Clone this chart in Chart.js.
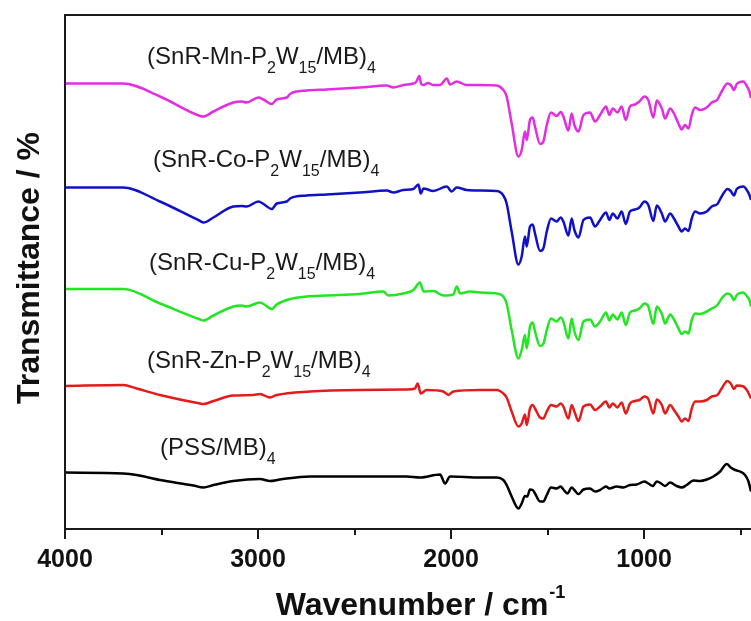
<!DOCTYPE html>
<html>
<head>
<meta charset="utf-8">
<script src="https://cdn.jsdelivr.net/npm/chart.js@4.4.1/dist/chart.umd.min.js"></script>
<style>
  html, body { margin: 0; padding: 0; background: #fff; overflow: hidden; }
  #wrap { width: 751px; height: 621px; position: relative; }
</style>
</head>
<body>
<div id="wrap"><canvas id="c" width="751" height="621"></canvas></div>
<script>
// FTIR spectra of the (…/MB)4 multilayer films, stacked with vertical offsets.
// Wavenumbers in cm^-1, transmittance in arbitrary (offset) units.

// Shared wavenumber grid for the fingerprint region of the four SnR films
const fpWave = [1850,1763,1729,1712,1686,1651,1634,1617,1608,1591,
                1577,1565,1539,1522,1504,1482,1453,1432,1418,1392,
                1375,1361,1340,1314,1280,1254,1228,1197,1180,1162,
                1138,1116,1095,1073,1047,1024,998,978,952,934,
                908,891,865,845,822,805,788,770,753,736,
                710,675,649,620,598,568,551,534,520,485,
                468,454,446];

// (SnR-Mn-P2W15/MB)4
const mnHiWave = [4000,3698,3508,3300,3283,3231,3128,3085,3059,2998,2972,2929,2903,2851,2834,2748,2644,2472,2333,2299,2247,2195,2181,2164,2155,2143,2119,2092,2057,2022,2005,1971,1919];
const mnHiT    = [89.1,89.1,86.5,82.6,82.5,83.5,85.3,85.5,85.3,86.3,85.9,85.0,85.9,86.3,87.0,87.7,87.9,88.3,88.7,88.3,88.8,89.1,89.4,90.6,89.0,88.8,89.2,88.8,88.8,90.1,88.9,89.5,88.8];
const mnFpT    = [88.8,88.7,87.8,86.5,81.1,74.5,75.8,79.5,77.8,81.8,
                  82.3,80.5,77.0,77.5,80.8,83.3,82.6,83.4,82.5,79.7,
                  83.1,80.8,79.5,82.8,83.3,81.5,82.8,84.5,82.8,84.1,
                  83.3,84.5,81.8,84.5,84.9,85.5,86.5,85.8,82.3,85.7,
                  84.1,82.1,84.1,83.1,81.1,79.9,80.8,80.1,82.8,84.3,
                  83.8,84.3,85.3,85.9,87.5,89.1,88.8,87.8,89.0,89.5,
                  88.6,87.5,86.2];

// (SnR-Co-P2W15/MB)4
const coHiWave = [4000,3698,3508,3300,3283,3231,3128,3085,3059,2998,2972,2929,2903,2851,2834,2748,2644,2472,2333,2299,2247,2195,2169,2157,2143,2092,2022,1997,1971,1919];
const coHiT    = [68.3,68.3,65.5,61.6,61.3,62.3,64.5,64.6,64.5,65.5,65.0,64.0,65.1,65.5,66.1,66.7,66.9,67.3,67.7,67.3,67.8,68.0,68.9,67.1,68.1,67.6,68.5,67.5,68.3,67.8];
const coFpT    = [67.7,67.6,66.7,65.1,59.5,52.9,54.5,58.5,56.5,60.5,
                  60.9,59.1,55.6,56.1,59.5,62.1,61.5,62.3,61.5,58.7,
                  62.1,59.8,58.3,61.8,62.3,60.5,61.8,63.3,61.8,63.1,
                  62.1,63.5,61.0,63.5,63.9,64.3,65.5,64.8,61.6,64.7,
                  63.1,61.5,63.1,62.1,60.5,59.5,60.1,59.6,62.1,63.5,
                  63.1,63.5,64.5,65.0,66.5,68.0,67.6,66.7,68.0,68.5,
                  67.8,66.8,65.8];

// (SnR-Cu-P2W15/MB)4
const cuHiWave = [4000,3698,3508,3300,3283,3231,3128,3085,3059,2990,2964,2929,2903,2834,2748,2644,2472,2351,2325,2247,2195,2161,2143,2092,2040,1988,1971,1953,1902];
const cuHiT    = [48.0,48.0,45.1,41.9,41.7,42.7,44.5,44.7,44.5,45.3,44.8,44.0,44.9,46.0,46.5,46.7,47.0,47.5,46.7,47.1,47.8,49.3,47.5,47.6,46.7,46.9,48.5,47.1,47.5];
const cuFpT    = [47.3,47.1,46.5,45.1,39.8,34.1,35.8,38.8,36.1,40.5,
                  41.3,39.5,36.6,37.0,39.8,42.1,41.5,42.3,41.5,38.1,
                  42.1,39.5,37.8,41.5,41.9,40.5,41.5,43.3,41.7,42.9,
                  41.9,43.3,40.8,43.3,43.7,44.1,45.1,44.5,41.0,44.5,
                  43.0,41.1,42.9,41.9,40.1,39.0,39.5,39.1,41.8,43.1,
                  43.0,43.5,44.1,44.8,46.1,47.1,46.8,45.8,46.8,47.3,
                  46.6,45.8,44.5];

// (SnR-Zn-P2W15/MB)4
const znHiWave = [4000,3698,3629,3508,3300,3283,3231,3128,3024,2990,2938,2903,2731,2472,2230,2187,2173,2157,2126,2040,2014,1988];
const znHiT    = [28.6,28.8,28.1,26.8,25.1,25.0,25.6,26.7,26.8,27.0,26.3,26.8,27.5,27.8,27.9,28.1,29.1,27.1,27.8,27.5,26.8,27.5];
const znFpT    = [27.8,27.8,27.1,26.3,23.5,20.5,21.1,22.9,20.8,24.1,
                  24.8,24.1,22.3,22.1,23.5,24.8,24.5,25.1,24.5,22.1,
                  24.8,23.5,21.6,24.5,24.9,23.8,24.5,25.5,24.3,25.1,
                  24.3,25.3,23.1,25.1,25.6,25.8,26.5,26.0,23.1,25.9,
                  24.8,23.1,24.8,23.8,22.5,21.5,22.1,21.6,24.1,25.5,
                  25.5,25.8,26.5,26.8,28.1,29.6,29.1,28.0,28.7,28.5,
                  27.8,26.8,26.1];

// (PSS/MB)4
const pssWave = [4000,3698,3629,3508,3335,3283,3231,3128,2990,2938,2886,2731,2472,2230,2161,2057,2031,2005,
                 1850,1763,1729,1712,1686,1651,1634,1617,1605,1591,
                 1577,1565,1539,1522,1504,1482,1453,1432,1418,1397,
                 1375,1361,1340,1314,1280,1254,1228,1197,1180,1142,
                 1107,1073,1038,998,978,955,934,908,891,865,
                 831,805,779,744,710,675,641,606,572,551,
                 528,503,477,459,446];
const pssT    = [11.3,11.1,10.8,9.8,8.7,8.3,8.8,9.6,10.0,9.6,9.9,10.5,10.5,10.5,10.3,10.9,9.1,10.5,
                 10.3,10.3,9.8,8.8,6.5,4.1,5.1,6.6,6.5,7.9,
                 7.8,7.1,5.5,5.5,6.8,8.3,8.1,8.5,7.9,7.1,
                 8.3,7.8,7.0,7.9,8.1,7.5,7.8,8.5,8.1,8.5,
                 8.3,8.8,8.9,9.5,9.1,8.6,9.5,9.0,8.6,9.3,
                 8.6,8.3,8.8,9.7,9.6,9.9,10.5,11.5,13.0,12.3,
                 11.8,11.5,10.8,9.5,7.5];

// Series names (subscripts marked with _{...})
const seriesNames = [
  '(SnR-Mn-P_{2}W_{15}/MB)_{4}',
  '(SnR-Co-P_{2}W_{15}/MB)_{4}',
  '(SnR-Cu-P_{2}W_{15}/MB)_{4}',
  '(SnR-Zn-P_{2}W_{15}/MB)_{4}',
  '(PSS/MB)_{4}'
];

// Axis ticks (cm^-1); only the thousands carry a label
const xTicks = [4000, 3500, 3000, 2500, 2000, 1500, 1000, 500];

// ---- styling ----
const seriesColors = ['#e22de2', '#1010c8', '#22e622', '#e41b1b', '#000000'];
// label anchor: [wavenumber at text start, transmittance at text baseline]
const labelAnchors = [[3575, 93.0], [3544, 72.4], [3565, 51.8], [3575, 32.2], [3508, 14.8]];

const seriesWave = [
  mnHiWave.concat(fpWave),
  coHiWave.concat(fpWave),
  cuHiWave.concat(fpWave),
  znHiWave.concat(fpWave),
  pssWave
];
const seriesT = [
  mnHiT.concat(mnFpT),
  coHiT.concat(coFpT),
  cuHiT.concat(cuFpT),
  znHiT.concat(znFpT),
  pssT
];

const datasets = seriesNames.map((name, i) => ({
  label: name.replace(/_\{([^}]*)\}/g, '$1'),
  data: seriesWave[i].map((w, k) => ({ x: w, y: seriesT[i][k] })),
  borderColor: seriesColors[i],
  backgroundColor: seriesColors[i],
  borderWidth: 2.5,
  pointRadius: 0,
  fill: false,
  cubicInterpolationMode: 'monotone'
}));

const FAMILY = '"Liberation Sans", Arial, Helvetica, sans-serif';

function drawRich(ctx, markup, x, y, size) {
  const parts = markup.split(/_\{([^}]*)\}/);
  let cx = x;
  parts.forEach((t, idx) => {
    if (!t) return;
    const sub = idx % 2 === 1;
    ctx.font = (sub ? Math.round(size * 0.66) : size) + 'px ' + FAMILY;
    ctx.fillText(t, cx, sub ? y + Math.round(size * 0.36) : y);
    cx += ctx.measureText(t).width;
  });
}

const framePlugin = {
  id: 'frame',
  afterDraw(chart) {
    const { ctx, chartArea: a, scales } = chart;
    const xs = scales.x, ys = scales.y;
    ctx.save();
    // frame: left, bottom, top
    ctx.strokeStyle = '#1a1a1a';
    ctx.lineWidth = 2;
    ctx.beginPath();
    ctx.moveTo(a.left - 1, a.top); ctx.lineTo(a.right + 2, a.top);
    ctx.moveTo(a.left, a.top - 1); ctx.lineTo(a.left, a.bottom + 1);
    ctx.moveTo(a.left - 1, a.bottom); ctx.lineTo(a.right + 2, a.bottom);
    xs.ticks.forEach(t => {
      const px = Math.round(xs.getPixelForValue(t.value));
      const len = t.value % 1000 === 0 ? 10 : 6;
      ctx.moveTo(px, a.bottom); ctx.lineTo(px, a.bottom + len);
    });
    ctx.stroke();

    // series labels
    ctx.fillStyle = '#1a1a1a';
    ctx.textBaseline = 'alphabetic';
    ctx.textAlign = 'left';
    seriesNames.forEach((name, i) => {
      const px = xs.getPixelForValue(labelAnchors[i][0]);
      const py = ys.getPixelForValue(labelAnchors[i][1]);
      drawRich(ctx, name, px, py, 24);
    });

    // x axis title with superscript
    ctx.fillStyle = '#111';
    ctx.font = 'bold 32px ' + FAMILY;
    const main = 'Wavenumber / cm';
    const w1 = ctx.measureText(main).width;
    ctx.font = 'bold 18px ' + FAMILY;
    const sup = '-1';
    const w2 = ctx.measureText(sup).width;
    const startX = 420 - (w1 + w2) / 2;
    ctx.font = 'bold 32px ' + FAMILY;
    ctx.fillText(main, startX, 615);
    ctx.font = 'bold 18px ' + FAMILY;
    ctx.fillText(sup, startX + w1 + 1, 598);

    // y axis title
    ctx.save();
    ctx.translate(39, 268);
    ctx.rotate(-Math.PI / 2);
    ctx.textAlign = 'center';
    ctx.font = 'bold 32px ' + FAMILY;
    ctx.fillText('Transmittance / %', 0, 0);
    ctx.restore();

    ctx.restore();
  }
};

new Chart(document.getElementById('c'), {
  type: 'line',
  data: { datasets },
  options: {
    responsive: false,
    animation: false,
    devicePixelRatio: 1,
    layout: { autoPadding: false, padding: { left: 65, top: 15, right: 0, bottom: 0 } },
    plugins: { legend: { display: false }, tooltip: { enabled: false } },
    scales: {
      x: {
        type: 'linear',
        reverse: true,
        min: 446,
        max: 4000,
        afterBuildTicks: s => { s.ticks = xTicks.map(v => ({ value: v })); },
        afterFit: s => { s.height = 92; s.paddingLeft = 0; s.paddingRight = 0; },
        grid: { display: false, drawTicks: false },
        border: { display: false },
        ticks: {
          autoSkip: false,
          maxRotation: 0,
          padding: 16,
          color: '#111',
          font: { family: FAMILY, size: 25, weight: 'bold' },
          callback: v => (v % 1000 === 0 ? String(v) : '')
        }
      },
      y: { display: false, min: 0, max: 102.8 }
    }
  },
  plugins: [framePlugin]
});
</script>
</body>
</html>
